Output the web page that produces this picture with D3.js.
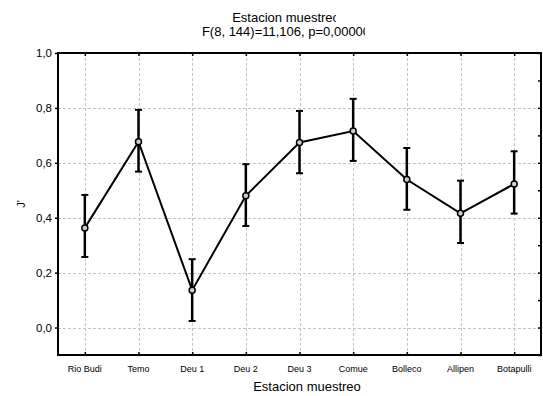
<!DOCTYPE html>
<html>
<head>
<meta charset="utf-8">
<script src="https://cdn.jsdelivr.net/npm/d3@7"></script>
<style>
  body { margin: 0; background: #fff; }
  svg text { font-family: 'Liberation Sans', Arial, sans-serif; fill: #000; }
</style>
</head>
<body>
<div id="chart"></div>
<script>
// Chart data
const stations = ['Rio Budi', 'Temo', 'Deu 1', 'Deu 2', 'Deu 3', 'Comue', 'Bolleco', 'Allipen', 'Botapulli'];
const means = [0.363, 0.677, 0.136, 0.480, 0.674, 0.716, 0.539, 0.416, 0.523];
const upper = [0.483, 0.793, 0.249, 0.595, 0.789, 0.833, 0.654, 0.535, 0.642];
const lower = [0.257, 0.568, 0.024, 0.370, 0.562, 0.607, 0.429, 0.308, 0.415];
const yTicks = [0.0, 0.2, 0.4, 0.6, 0.8, 1.0];
const yMinorTicks = [-0.1, 0.0, 0.1, 0.2, 0.3, 0.4, 0.5, 0.6, 0.7, 0.8, 0.9, 1.0];

const W = 543, H = 396;
const plot = { left: 58, right: 541, top: 53, bottom: 355 };

const svg = d3.select('#chart').append('svg')
  .attr('width', W)
  .attr('height', H);

const x = d3.scalePoint()
  .domain(stations)
  .range([plot.left, plot.right])
  .padding(0.5);

const y = d3.scaleLinear()
  .domain([-0.1, 1.0])
  .range([plot.bottom, plot.top]);

const fmt = (d) => d3.format('.1f')(d).replace('.', ',');

// Grid lines
const grid = svg.append('g')
  .attr('stroke', '#c4c4c4')
  .attr('stroke-width', 1)
  .attr('stroke-dasharray', '3,2');

grid.selectAll('.hgrid')
  .data(yTicks.filter((d) => d < 1))
  .join('line')
  .attr('x1', plot.left).attr('x2', plot.right)
  .attr('y1', (d) => Math.round(y(d)) + 0.5)
  .attr('y2', (d) => Math.round(y(d)) + 0.5);

grid.selectAll('.vgrid')
  .data(stations)
  .join('line')
  .attr('x1', (d) => Math.round(x(d)) + 0.5)
  .attr('x2', (d) => Math.round(x(d)) + 0.5)
  .attr('y1', plot.top).attr('y2', plot.bottom);

// Axes
const leftAxis = svg.append('g')
  .attr('transform', `translate(${plot.left},0)`)
  .call(d3.axisLeft(y).tickValues(yTicks).tickFormat(fmt).tickSize(3).tickPadding(3));

const rightAxis = svg.append('g')
  .attr('transform', `translate(${plot.right},0)`)
  .call(d3.axisLeft(y).tickValues(yMinorTicks).tickFormat('').tickSize(3));

const topAxis = svg.append('g')
  .attr('transform', `translate(0,${plot.top})`)
  .call(d3.axisBottom(x).tickFormat('').tickSize(3));

const bottomAxis = svg.append('g')
  .attr('transform', `translate(0,${plot.bottom})`)
  .call(d3.axisTop(x).tickFormat('').tickSize(3));

[leftAxis, rightAxis, topAxis, bottomAxis].forEach((g) => {
  g.select('.domain').remove();
  g.selectAll('.tick line').attr('stroke', '#000').attr('stroke-width', 1.5);
});

leftAxis.selectAll('.tick text')
  .style('font-size', '11.5px');

// Category labels
svg.append('g')
  .selectAll('text')
  .data(stations)
  .join('text')
  .attr('x', (d) => x(d))
  .attr('y', 372)
  .attr('text-anchor', 'middle')
  .style('font-size', '9px')
  .text((d) => d);

// Frame
svg.append('rect')
  .attr('x', plot.left)
  .attr('y', plot.top)
  .attr('width', plot.right - plot.left)
  .attr('height', plot.bottom - plot.top)
  .attr('fill', 'none')
  .attr('stroke', '#000')
  .attr('stroke-width', 2);

// Line
const points = stations.map((s, i) => ({ s, m: means[i], hi: upper[i], lo: lower[i] }));

svg.append('path')
  .datum(points)
  .attr('fill', 'none')
  .attr('stroke', '#000')
  .attr('stroke-width', 2)
  .attr('d', d3.line().x((d) => x(d.s)).y((d) => y(d.m)));

// Error bars
const bars = svg.append('g')
  .attr('stroke', '#000')
  .attr('stroke-width', 2.5);

bars.selectAll('.err')
  .data(points)
  .join('line')
  .attr('x1', (d) => x(d.s)).attr('x2', (d) => x(d.s))
  .attr('y1', (d) => y(d.hi)).attr('y2', (d) => y(d.lo));

bars.selectAll('.cap-hi')
  .data(points)
  .join('line')
  .attr('stroke-width', 2)
  .attr('x1', (d) => x(d.s) - 3.5).attr('x2', (d) => x(d.s) + 3.5)
  .attr('y1', (d) => y(d.hi)).attr('y2', (d) => y(d.hi));

bars.selectAll('.cap-lo')
  .data(points)
  .join('line')
  .attr('stroke-width', 2)
  .attr('x1', (d) => x(d.s) - 3.5).attr('x2', (d) => x(d.s) + 3.5)
  .attr('y1', (d) => y(d.lo)).attr('y2', (d) => y(d.lo));

// Markers
svg.append('g')
  .selectAll('circle')
  .data(points)
  .join('circle')
  .attr('cx', (d) => x(d.s))
  .attr('cy', (d) => y(d.m))
  .attr('r', 3)
  .attr('fill', '#ccc')
  .attr('stroke', '#000')
  .attr('stroke-width', 1.5);

// Titles, cut off on the right like the original
const titleLines = [
  { text: 'Estacion muestreo', y: 22, clip: 336 },
  { text: 'F(8, 144)=11,106, p=0,00000', y: 36, clip: 365 },
];

titleLines.forEach((t, i) => {
  svg.append('clipPath')
    .attr('id', `title-clip-${i}`)
    .append('rect')
    .attr('x', 0).attr('y', t.y - 14)
    .attr('width', t.clip).attr('height', 18);

  svg.append('text')
    .attr('clip-path', `url(#title-clip-${i})`)
    .attr('x', 286)
    .attr('y', t.y)
    .attr('text-anchor', 'middle')
    .style('font-size', '13px')
    .text(t.text);
});

// Axis titles
svg.append('text')
  .attr('x', 307)
  .attr('y', 391)
  .attr('text-anchor', 'middle')
  .style('font-size', '13px')
  .text('Estacion muestreo');

svg.append('text')
  .attr('transform', `translate(25,${(plot.top + plot.bottom) / 2}) rotate(-90)`)
  .attr('text-anchor', 'middle')
  .style('font-size', '11px')
  .text("J'");
</script>
</body>
</html>
